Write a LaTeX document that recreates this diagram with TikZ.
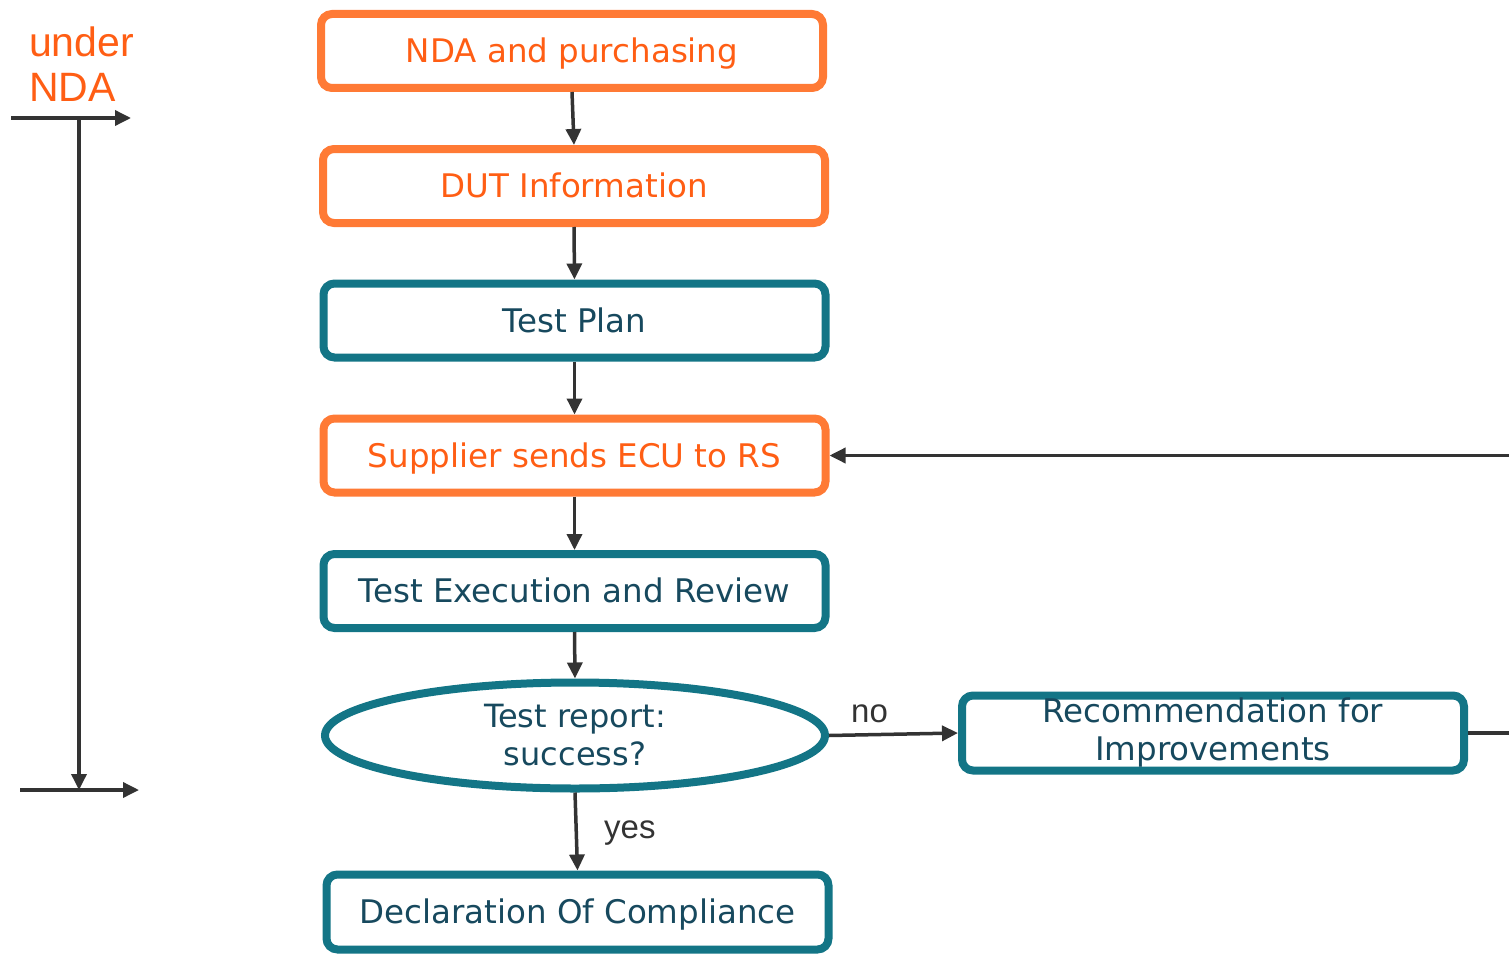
\documentclass[tikz,border=0pt]{standalone}
\usepackage{fontspec}
\setmainfont{DejaVu Sans}
\newfontfamily\labelfont{Liberation Sans}
\usetikzlibrary{arrows.meta,shapes.geometric}
\definecolor{rsorange}{HTML}{FF7A35}
\definecolor{rsorangetext}{HTML}{FF5E14}
\definecolor{rsteal}{HTML}{137586}
\definecolor{rsteatext}{HTML}{17495E}
\definecolor{flowgray}{HTML}{333333}
\tikzset{
  stepbox/.style={rectangle, rounded corners=11pt, line width=8pt, fill=white,
    minimum width=502pt, minimum height=74pt, inner sep=0pt, align=center,
    font=\fontsize{32.5}{38}\selectfont},
  % single-line labels: centre on the capital letters
  oneline/.style={text height=29pt, text depth=5.3pt},
  orangebox/.style={stepbox, oneline, draw=rsorange, text=rsorangetext},
  tealbox/.style={stepbox, oneline, draw=rsteal, text=rsteatext},
  twolinebox/.style={stepbox, draw=rsteal, text=rsteatext},
  decision/.style={ellipse, line width=8pt, draw=rsteal, text=rsteatext, fill=white,
    minimum width=500pt, minimum height=106pt, inner sep=0pt, align=center,
    font=\fontsize{32}{38}\selectfont},
  flow/.style={draw=flowgray, line width=3.5pt, -{Triangle[length=16pt,width=15pt]}},
  edgelabel/.style={text=flowgray, font=\labelfont\fontsize{33}{38}\selectfont, inner sep=0pt},
  ndalabel/.style={text=rsorangetext, font=\labelfont\fontsize{41}{45}\selectfont, align=left, inner sep=0pt}
}
\begin{document}
\begin{tikzpicture}[x=1pt,y=-1pt]
\useasboundingbox (0,0) rectangle (1509,955);
\clip (0,0) rectangle (1509,955);

% process chain
\node[orangebox] (nda)  at (572,51)     {NDA and purchasing};
\node[orangebox] (dut)  at (574,186)    {DUT Information};
\node[tealbox]   (plan) at (574.5,320.5) {Test Plan};
\node[orangebox] (ecu)  at (574.5,455.5) {Supplier sends ECU to RS};
\node[tealbox]   (exec) at (574.5,591)   {Test Execution and Review};
\node[decision]  (rep)  at (575,735.5)   {Test report:\\success?};
\node[twolinebox, minimum height=75pt] (rec) at (1213,733)
  {Recommendation for\\Improvements};
\node[tealbox, minimum height=75pt] (doc) at (577.5,912) {Declaration Of Compliance};

\draw[flow] (nda.south) -- (dut.north);
\draw[flow] (dut.south) -- (plan.north);
\draw[flow] (plan.south) -- (ecu.north);
\draw[flow] (ecu.south) -- (exec.north);
\draw[flow] (exec.south) -- (rep.north);
\draw[flow] (rep.south) -- (doc.north);
\draw[flow] (rep.east) -- (rec.west);

\node[edgelabel, anchor=base west] (nolbl)  at (851,722) {no};
\node[edgelabel, anchor=base west] (yeslbl) at (604,838) {yes};

% loop back from the recommendation to shipping a new ECU
\coordinate (loopr) at (1540,733);
\coordinate (loopt) at (1540,455.5);
\draw[flow] (rec.east) -- (loopr) -- (loopt) -- (ecu.east);

% NDA time span on the left
\node[ndalabel, anchor=base west] (under) at (29,102) {under\\NDA};
\coordinate (ts) at (11,118);
\coordinate (te) at (131,118);
\coordinate (vs) at (79,118);
\coordinate (ve) at (79,790);
\coordinate (bs) at (20,790);
\coordinate (be) at (139,790);
\draw[flow] (ts) -- (te);
\draw[flow] (vs) -- (ve);
\draw[flow] (bs) -- (be);
\end{tikzpicture}
\end{document}
